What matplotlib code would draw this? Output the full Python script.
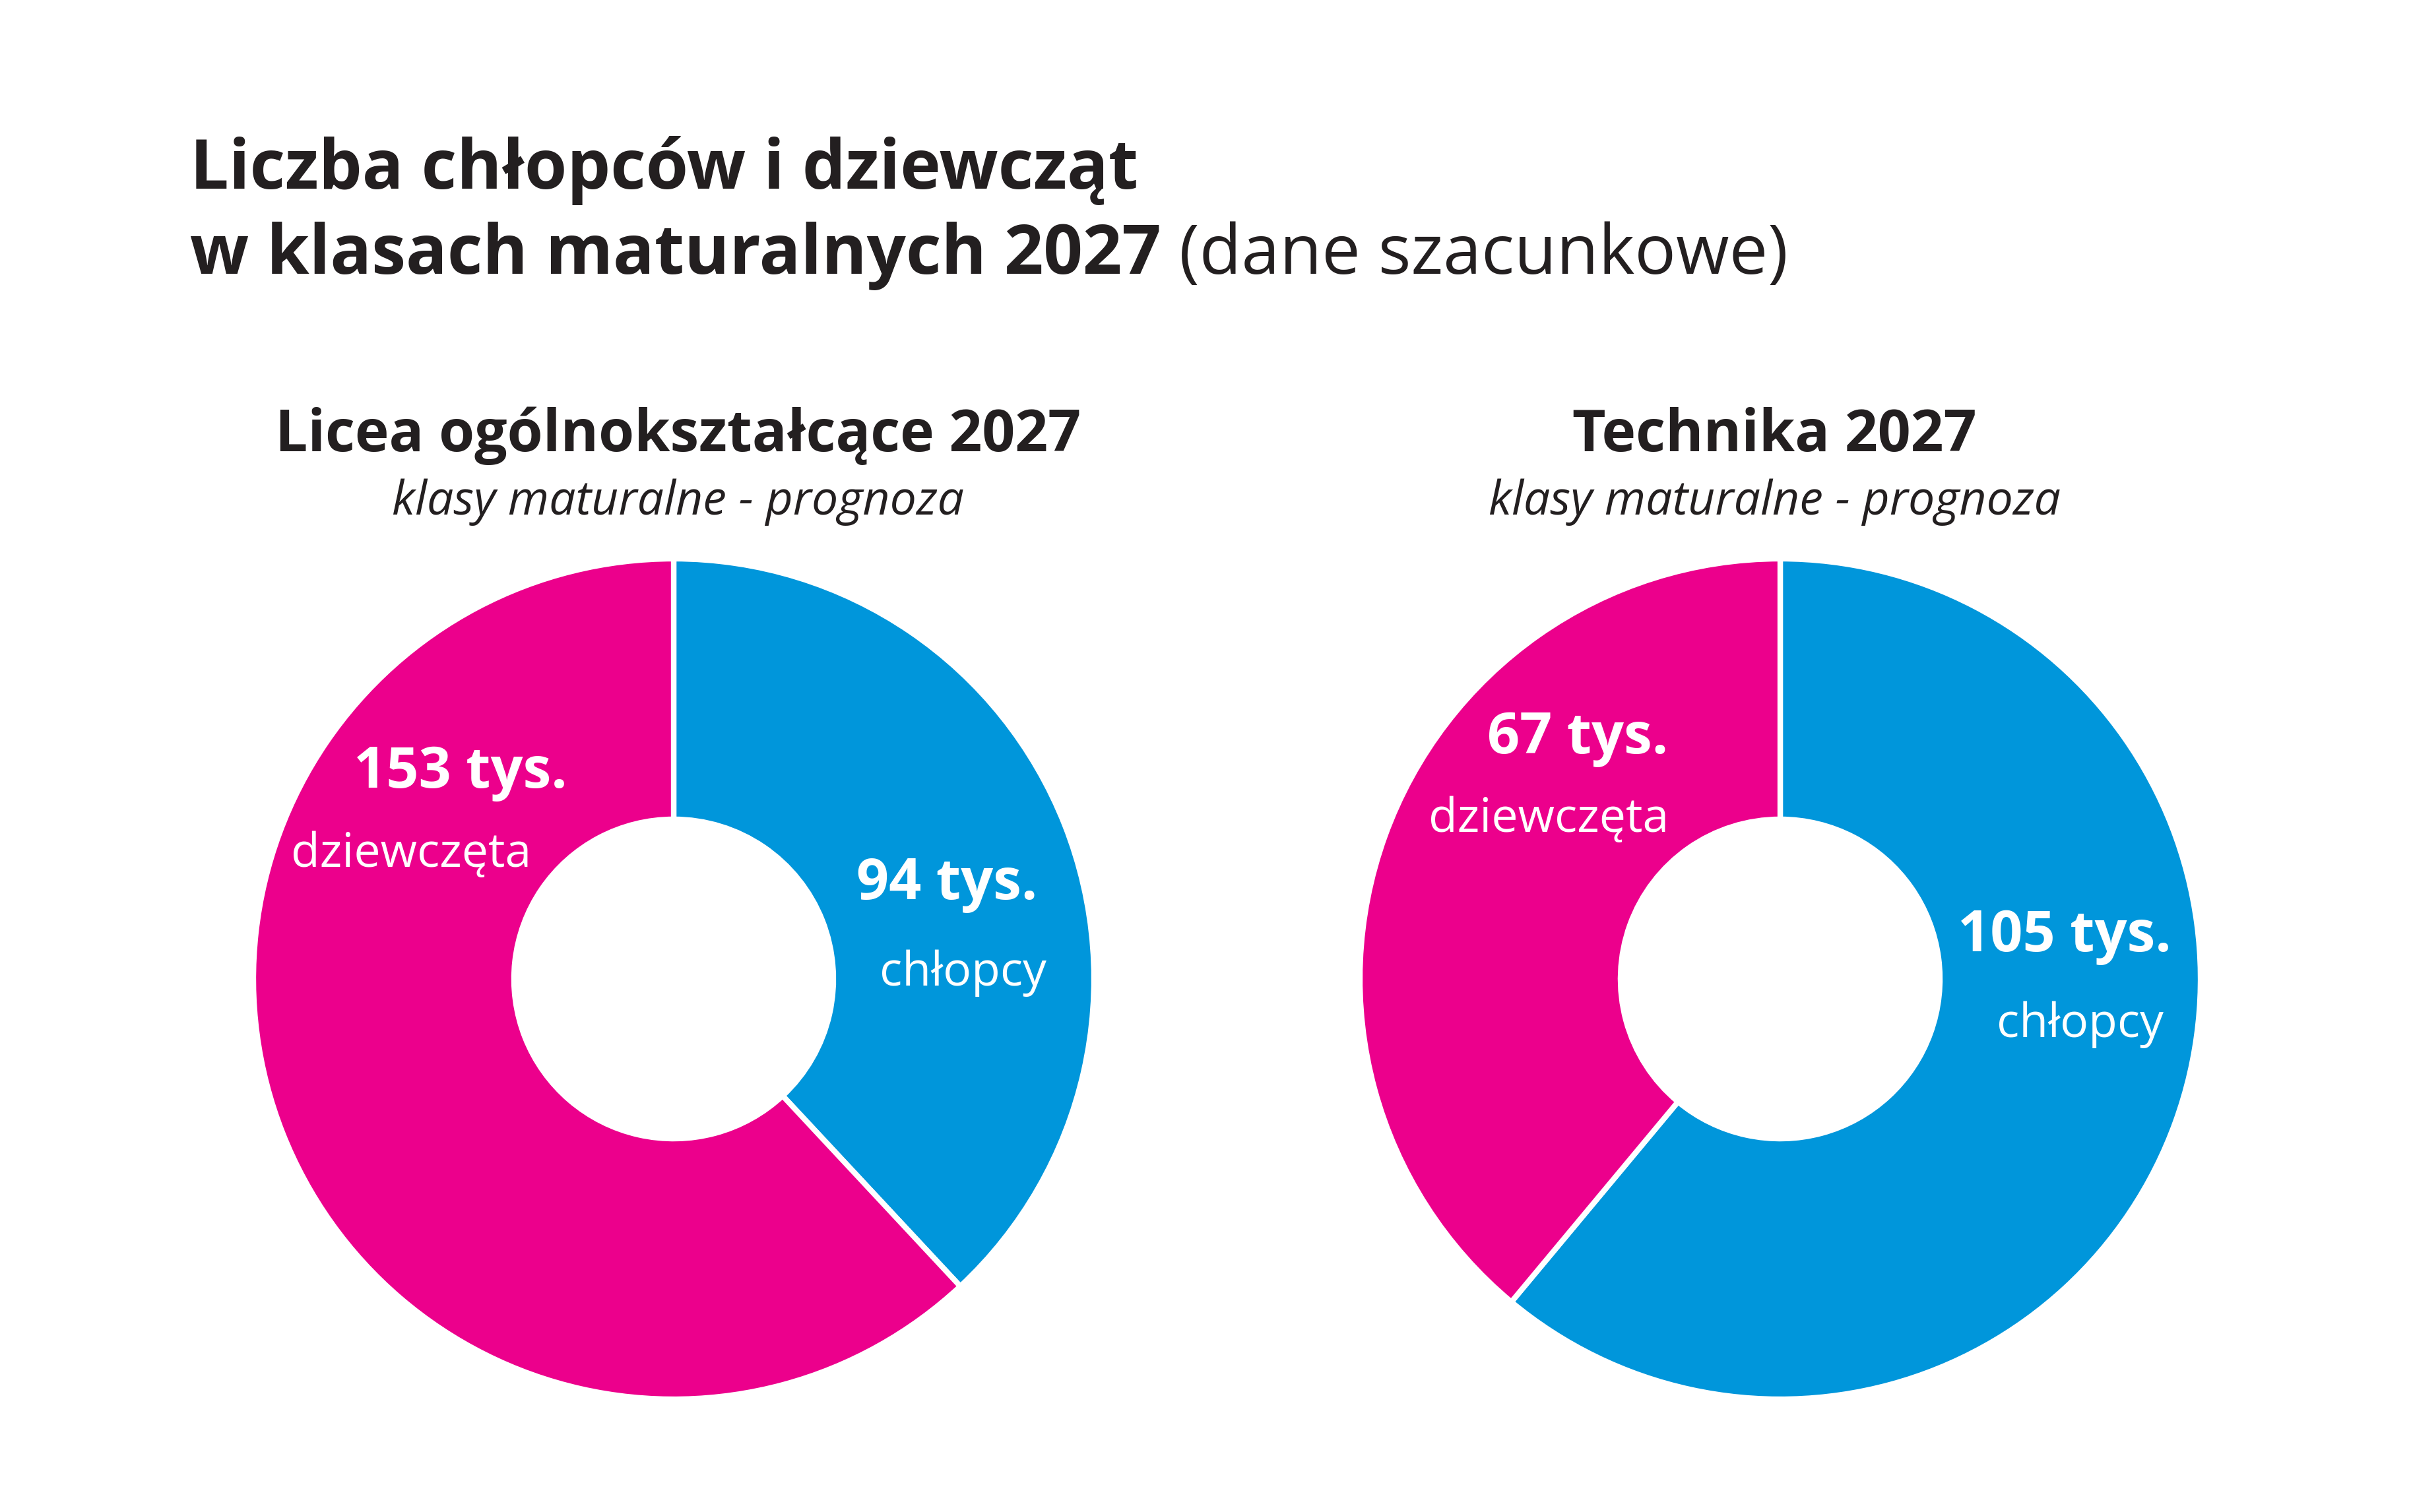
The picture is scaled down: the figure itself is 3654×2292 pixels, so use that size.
import matplotlib.pyplot as plt

# dane (tys. uczniów)
categories = ["chłopcy", "dziewczęta"]
licea_values = [94, 153]
technika_values = [105, 67]
colors = ["#0096DB", "#EC008C"]

W, H = 3654, 2292
DARK = "#231F20"

plt.rcParams['font.family'] = ['Open Sans', 'DejaVu Sans']

fig = plt.figure(figsize=(W / 100, H / 100), dpi=100)
fig.patch.set_facecolor("white")


def px(x, y):
    """pixel coords (top-left origin) -> figure fraction"""
    return x / W, 1 - y / H


# title
fig.text(*px(288, 286), "Liczba chłopców i dziewcząt", fontsize=75,
         fontweight="bold", color=DARK, va="baseline")
t2 = fig.text(*px(288, 415), "w klasach maturalnych 2027", fontsize=75,
              fontweight="bold", color=DARK, va="baseline")
fig.canvas.draw()
bb = t2.get_window_extent()
fig.text(bb.x1 / W, 1 - 415 / H, " (dane szacunkowe)", fontsize=75,
         color=DARK, va="baseline")


def donut(cx, cy, tx, values, title, labels):
    R = 637
    ax = fig.add_axes([(cx - R) / W, (H - cy - R) / H, 2 * R / W, 2 * R / H])
    ax.pie(values, colors=colors, startangle=90, counterclock=False,
           radius=1, wedgeprops=dict(width=0.62, edgecolor="white", linewidth=6))
    ax.set_xlim(-1, 1)
    ax.set_ylim(-1, 1)
    ax.set_aspect("equal")
    ax.axis("off")
    for (val, name), (vx, vy), (nx, ny) in labels:
        ax.text(vx, vy - 0.013, f"{val} tys.", color="white", fontsize=62,
                fontweight="bold", ha="center", va="center")
        ax.text(nx, ny - 0.013, name, color="white", fontsize=51.5,
                ha="center", va="center")
    fig.text(*px(tx, 684), title, fontsize=63, fontweight="bold",
             color=DARK, ha="center", va="baseline")
    fig.text(*px(tx, 780), "klasy maturalne - prognoza", fontsize=51.5,
             style="italic", color=DARK, ha="center", va="baseline")


donut(1021, 1484, 1028, licea_values, "Licea ogólnokształcące 2027", [
    ((licea_values[1], categories[1]), (-0.507, 0.504), (-0.625, 0.309)),
    ((licea_values[0], categories[0]), (0.651, 0.239), (0.688, 0.026)),
])
donut(2698, 1484, 2689, technika_values, "Technika 2027", [
    ((technika_values[1], categories[1]), (-0.482, 0.585), (-0.551, 0.393)),
    ((technika_values[0], categories[0]), (0.676, 0.114), (0.713, -0.096)),
])

fig.savefig("out.png", dpi=100, facecolor="white")
